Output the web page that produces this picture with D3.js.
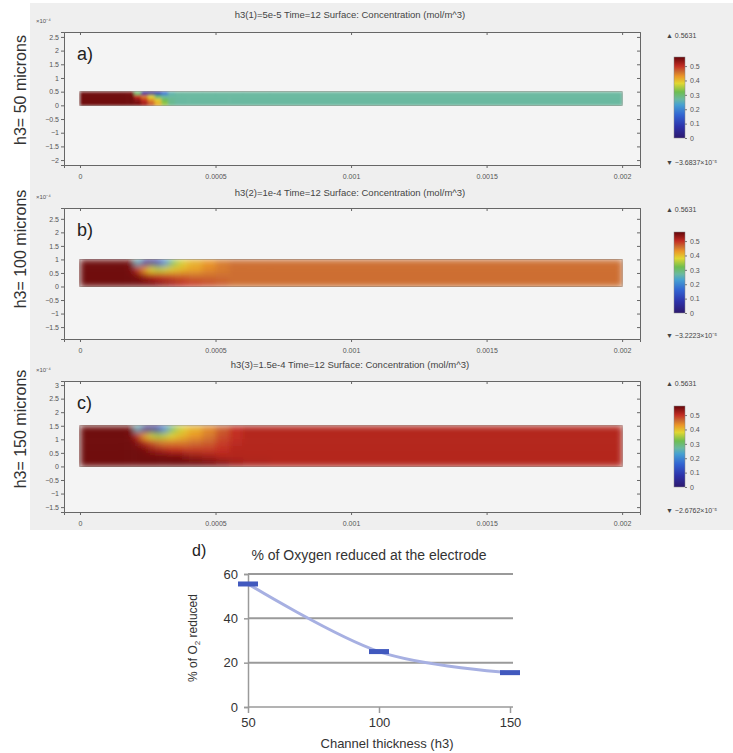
<!DOCTYPE html>
<html>
<head>
<meta charset="utf-8">
<script src="https://cdn.jsdelivr.net/npm/d3@7"></script>
<style>
body { margin: 0; background: #fff; }
text { font-family: "Liberation Sans", Arial, sans-serif; }
</style>
</head>
<body>
<div id="chart"></div>
<script>
// ---- data ----

// column edges of the concentration grid (m); rows run from the top of the channel down
const xEdges = [0, 0.00015, 0.000175, 0.0002, 0.000225, 0.00025, 0.000275, 0.0003, 0.000325,
    0.00035, 0.000375, 0.0004, 0.00045, 0.0005, 0.00055, 0.0006, 0.0007, 0.002];

// panel a rows are 0.125e-4 m tall
const concA = [
    [0.556, 0.556, 0.55, 0.3, 0.05, 0.04, 0.08, 0.18, 0.26, 0.27, 0.27, 0.27, 0.27, 0.27, 0.27, 0.27, 0.27],
    [0.556, 0.556, 0.556, 0.5, 0.45, 0.38, 0.3, 0.27, 0.27, 0.27, 0.27, 0.27, 0.27, 0.27, 0.27, 0.27, 0.27],
    [0.556, 0.556, 0.556, 0.54, 0.5, 0.44, 0.39, 0.32, 0.28, 0.27, 0.27, 0.27, 0.27, 0.27, 0.27, 0.27, 0.27],
    [0.556, 0.556, 0.556, 0.55, 0.52, 0.47, 0.41, 0.34, 0.28, 0.27, 0.27, 0.27, 0.27, 0.27, 0.27, 0.27, 0.27]
];
// panels b and c rows are 0.25e-4 m tall
const concB = [
    [0.556, 0.556, 0.55, 0.25, 0.05, 0.03, 0.08, 0.2, 0.3, 0.36, 0.39, 0.41, 0.43, 0.45, 0.46, 0.46, 0.46],
    [0.556, 0.556, 0.55, 0.5, 0.43, 0.38, 0.36, 0.37, 0.39, 0.4, 0.41, 0.42, 0.44, 0.45, 0.46, 0.46, 0.46],
    [0.556, 0.556, 0.556, 0.55, 0.53, 0.51, 0.5, 0.49, 0.48, 0.47, 0.47, 0.46, 0.46, 0.46, 0.46, 0.46, 0.46],
    [0.556, 0.556, 0.556, 0.556, 0.55, 0.55, 0.54, 0.53, 0.52, 0.51, 0.5, 0.49, 0.48, 0.47, 0.46, 0.46, 0.46]
];
const concC = [
    [0.556, 0.556, 0.55, 0.25, 0.04, 0.03, 0.07, 0.2, 0.3, 0.36, 0.39, 0.41, 0.44, 0.47, 0.5, 0.51, 0.51],
    [0.556, 0.556, 0.55, 0.5, 0.42, 0.37, 0.35, 0.36, 0.38, 0.4, 0.41, 0.43, 0.45, 0.48, 0.5, 0.51, 0.51],
    [0.556, 0.556, 0.556, 0.54, 0.51, 0.48, 0.46, 0.45, 0.45, 0.45, 0.45, 0.46, 0.47, 0.49, 0.505, 0.51, 0.51],
    [0.556, 0.556, 0.556, 0.556, 0.55, 0.53, 0.52, 0.51, 0.5, 0.5, 0.49, 0.49, 0.49, 0.5, 0.51, 0.51, 0.51],
    [0.556, 0.556, 0.556, 0.556, 0.556, 0.556, 0.556, 0.556, 0.55, 0.55, 0.54, 0.53, 0.52, 0.51, 0.51, 0.51, 0.51],
    [0.556, 0.556, 0.556, 0.556, 0.556, 0.556, 0.556, 0.556, 0.556, 0.556, 0.556, 0.556, 0.55, 0.54, 0.525, 0.515, 0.51]
];

const panelLetters = ["a)", "b)", "c)"];
const panelTitles = [
    "h3(1)=5e-5 Time=12  Surface: Concentration (mol/m^3)",
    "h3(2)=1e-4 Time=12  Surface: Concentration (mol/m^3)",
    "h3(3)=1.5e-4 Time=12  Surface: Concentration (mol/m^3)"
];
const sideLabels = ["h3= 50 microns", "h3= 100 microns", "h3= 150 microns"];
const channelHeights = [0.5, 1, 1.5]; // x10^-4 m
const yTicksA = [-2, -1.5, -1, -0.5, 0, 0.5, 1, 1.5, 2, 2.5];
const yTicksB = [-1.5, -1, -0.5, 0, 0.5, 1, 1.5, 2, 2.5];
const yTicksC = [-1.5, -1, -0.5, 0, 0.5, 1, 1.5, 2, 2.5, 3];
const xTicks = [0, 0.0005, 0.001, 0.0015, 0.002];
const maxLabels = ["\u25B2 0.5631", "\u25B2 0.5631", "\u25B2 0.5631"];
const minLabels = ["\u25BC \u22123.6837\u00D710\u207B\u2075", "\u25BC \u22123.2223\u00D710\u207B\u2075", "\u25BC \u22122.6762\u00D710\u207B\u2075"];
const cbTicks = [0, 0.1, 0.2, 0.3, 0.4, 0.5];
const cMax = 0.5631;

// rainbow colour table
const cbStops = [0, 0.08, 0.16, 0.23, 0.27, 0.32, 0.38, 0.43, 0.46, 0.5, 0.5631];
const cbColors = ["#2d196e", "#2d32aa", "#3264d2", "#46a0d2", "#6ab9a0", "#6ebe50",
    "#e1d732", "#eb9628", "#cd6e30", "#c32d23", "#64050a"];

// panel d
const thickness = [50, 100, 150];
const reduced = [55.5, 25, 15.5];
const pctTicks = [0, 20, 40, 60];

// ---- drawing ----
const W = 733, H = 753;
const svg = d3.select("#chart").append("svg")
    .attr("width", W).attr("height", H);

const color = d3.scaleLinear().domain(cbStops).range(cbColors).clamp(true);

const defs = svg.append("defs");
[["smoothA", 1.8], ["smooth", 3]].forEach(([id, s]) => {
    defs.append("filter").attr("id", id)
        .attr("x", 0).attr("y", 0).attr("width", 1).attr("height", 1)
        .append("feGaussianBlur").attr("stdDeviation", s).attr("edgeMode", "duplicate");
});

const grad = defs.append("linearGradient").attr("id", "cbgrad")
    .attr("x1", 0).attr("y1", 1).attr("x2", 0).attr("y2", 0);
grad.selectAll("stop").data(cbStops).join("stop")
    .attr("offset", d => d / cMax)
    .attr("stop-color", (d, i) => cbColors[i]);

// light grey backdrop of the simulation plots
svg.append("rect").attr("x", 30).attr("y", 3).attr("width", W - 30).attr("height", 527)
    .attr("fill", "#efefef");

const panels = [
    { conc: concA, rowH: 0.125, filter: "smoothA", ticks: yTicksA, top: 32, bottom: 165, dom: [-2.18, 2.68], titleY: 18, cbTop: 57, cbBottom: 138, maxY: 38, minY: 165, sideY: 90 },
    { conc: concB, rowH: 0.25, filter: "smooth", ticks: yTicksB, top: 208, bottom: 339, dom: [-1.94, 2.9], titleY: 196, cbTop: 232, cbBottom: 313, maxY: 212, minY: 338, sideY: 249 },
    { conc: concC, rowH: 0.25, filter: "smooth", ticks: yTicksC, top: 381, bottom: 512, dom: [-1.68, 3.15], titleY: 368, cbTop: 406, cbBottom: 487, maxY: 386, minY: 513, sideY: 429 }
];

const boxLeft = 64, boxRight = 640;
const x = d3.scaleLinear().domain([-0.000059, 0.002066]).range([boxLeft, boxRight]);
const fmtX = d => d === 0 ? "0" : String(d);

panels.forEach((p, k) => {
    const y = d3.scaleLinear().domain(p.dom).range([p.bottom, p.top]);
    const g = svg.append("g");

    g.append("rect")
        .attr("x", boxLeft).attr("y", p.top)
        .attr("width", boxRight - boxLeft).attr("height", p.bottom - p.top)
        .attr("fill", "#f4f4f4");

    // concentration field
    const cells = [];
    p.conc.forEach((row, r) => row.forEach((v, c) => {
        cells.push({ x0: xEdges[c], x1: xEdges[c + 1], yTop: channelHeights[k] - r * p.rowH, v: v });
    }));
    g.append("g").attr("filter", `url(#${p.filter})`)
        .selectAll("rect").data(cells).join("rect")
        .attr("x", d => x(d.x0))
        .attr("y", d => y(d.yTop))
        .attr("width", d => x(d.x1) - x(d.x0) + 0.5)
        .attr("height", d => y(d.yTop - p.rowH) - y(d.yTop) + 0.5)
        .attr("fill", d => color(d.v));
    g.append("rect")
        .attr("x", x(0)).attr("y", y(channelHeights[k]))
        .attr("width", x(0.002) - x(0)).attr("height", y(0) - y(channelHeights[k]))
        .attr("fill", "none").attr("stroke", "#5a4a40").attr("stroke-opacity", 0.4).attr("stroke-width", 0.8);

    // axes
    const axL = g.append("g").attr("transform", `translate(${boxLeft},0)`)
        .call(d3.axisLeft(y).tickValues(p.ticks).tickSize(3).tickPadding(2).tickFormat(d3.format("")));
    const axB = g.append("g").attr("transform", `translate(0,${p.bottom})`)
        .call(d3.axisBottom(x).tickValues(xTicks).tickSize(3).tickPadding(6).tickFormat(fmtX));
    const axT = g.append("g").attr("transform", `translate(0,${p.top})`)
        .call(d3.axisBottom(x).tickValues(xTicks).tickSize(3).tickFormat(""));
    const axR = g.append("g").attr("transform", `translate(${boxRight},0)`)
        .call(d3.axisLeft(y).tickValues(p.ticks).tickSize(3).tickFormat(""));
    [axL, axB, axT, axR].forEach(a => {
        a.select(".domain").attr("stroke", "#666");
        a.selectAll(".tick line").attr("stroke", "#666");
        a.selectAll("text").attr("font-size", 7).attr("fill", "#555")
            .attr("font-family", "'Liberation Sans', Arial, sans-serif");
    });

    g.append("text").attr("x", 36).attr("y", p.top - 9)
        .attr("font-size", 6).attr("fill", "#555").text("\u00D710\u207B\u2074");

    g.append("text").attr("x", 350).attr("y", p.titleY)
        .attr("text-anchor", "middle").attr("font-size", 9.5).attr("fill", "#444")
        .text(panelTitles[k]);

    g.append("text").attr("x", 77).attr("y", p.top + 28)
        .attr("font-size", 18).attr("fill", "#222").text(panelLetters[k]);

    g.append("text")
        .attr("transform", `translate(26,${p.sideY}) rotate(-90)`)
        .attr("text-anchor", "middle").attr("font-size", 16).attr("fill", "#333")
        .text(sideLabels[k]);

    // colour legend
    const cb = d3.scaleLinear().domain([0, cMax]).range([p.cbBottom, p.cbTop]);
    g.append("rect").attr("x", 674).attr("y", p.cbTop)
        .attr("width", 11).attr("height", p.cbBottom - p.cbTop)
        .attr("fill", "url(#cbgrad)").attr("stroke", "#888").attr("stroke-width", 0.5);
    const cbAx = g.append("g").attr("transform", "translate(685,0)")
        .call(d3.axisRight(cb).tickValues(cbTicks).tickSize(2).tickPadding(3).tickFormat(d3.format("")));
    cbAx.select(".domain").remove();
    cbAx.selectAll(".tick line").attr("stroke", "#777");
    cbAx.selectAll("text").attr("font-size", 7).attr("fill", "#555")
        .attr("font-family", "'Liberation Sans', Arial, sans-serif");

    g.append("text").attr("x", 666).attr("y", p.maxY)
        .attr("font-size", 7).attr("fill", "#444").text(maxLabels[k]);
    g.append("text").attr("x", 666).attr("y", p.minY)
        .attr("font-size", 7).attr("fill", "#444").text(minLabels[k]);
});

// ---- panel d: line chart ----
const xd = d3.scaleLinear().domain([50, 150]).range([248, 510]);
const yd = d3.scaleLinear().domain([0, 60]).range([707, 574]);
const gd = svg.append("g");

gd.selectAll(".grid").data(pctTicks.filter(v => v > 0)).join("line")
    .attr("class", "grid")
    .attr("x1", xd(50)).attr("x2", xd(150) + 3)
    .attr("y1", d => yd(d)).attr("y2", d => yd(d))
    .attr("stroke", "#9a9a9a").attr("stroke-width", 2);

const axY = gd.append("g").attr("transform", `translate(${xd(50)},0)`)
    .call(d3.axisLeft(yd).tickValues(pctTicks).tickSize(4).tickPadding(6));
const axX = gd.append("g").attr("transform", `translate(0,${yd(0)})`)
    .call(d3.axisBottom(xd).tickValues(thickness).tickSize(6).tickPadding(5));
[axY, axX].forEach(a => {
    a.select(".domain").attr("stroke", "#9a9a9a").attr("stroke-width", 1.5);
    a.selectAll(".tick line").attr("stroke", "#9a9a9a").attr("stroke-width", 1.5);
    a.selectAll("text").attr("font-size", 13).attr("fill", "#333")
        .attr("font-family", "'Liberation Sans', Arial, sans-serif");
});
axX.select(".domain").attr("d", `M${xd(50)},0H${xd(150) + 3}`);

const pts = thickness.map((t, i) => [t, reduced[i]]);
gd.append("path")
    .datum(pts)
    .attr("d", d3.line().x(d => xd(d[0])).y(d => yd(d[1])).curve(d3.curveCatmullRom.alpha(0)))
    .attr("fill", "none").attr("stroke", "#a7b0e2").attr("stroke-width", 3);

gd.selectAll(".mark").data(pts).join("rect")
    .attr("class", "mark")
    .attr("x", d => xd(d[0]) - 10).attr("y", d => yd(d[1]) - 2.5)
    .attr("width", 20).attr("height", 5)
    .attr("fill", "#4159be");

gd.append("text").attr("x", 369).attr("y", 560)
    .attr("text-anchor", "middle").attr("font-size", 14).attr("fill", "#333")
    .text("% of Oxygen reduced at the electrode");

gd.append("text").attr("x", 192).attr("y", 556)
    .attr("font-size", 16).attr("fill", "#222").text("d)");

gd.append("text").attr("x", 387).attr("y", 748)
    .attr("text-anchor", "middle").attr("font-size", 13).attr("fill", "#333")
    .text("Channel thickness (h3)");

const yTitle = gd.append("text")
    .attr("transform", "translate(197,638) rotate(-90)")
    .attr("text-anchor", "middle").attr("font-size", 12).attr("fill", "#333");
yTitle.append("tspan").text("% of O");
yTitle.append("tspan").attr("font-size", 8).attr("dy", 3).text("2");
yTitle.append("tspan").attr("dy", -3).text(" reduced");
</script>
</body>
</html>
